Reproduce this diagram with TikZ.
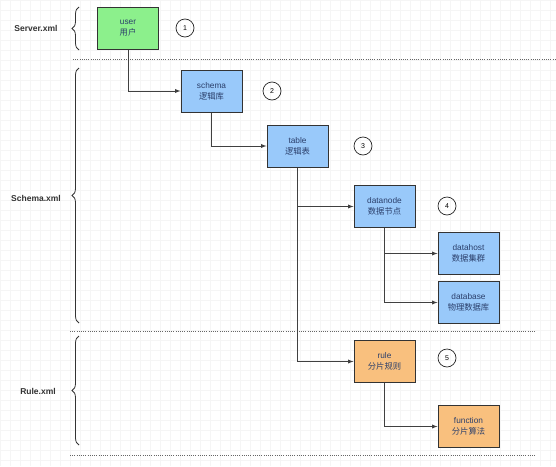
\documentclass[tikz,border=0pt]{standalone}
\usepackage{fontspec}
\setmainfont{Liberation Sans}
\newfontfamily\cjk{Noto Sans CJK SC}
\usetikzlibrary{decorations.pathreplacing}
\definecolor{usergreen}{HTML}{8CF08C}
\definecolor{nodeblue}{HTML}{99C9FA}
\definecolor{ruleorange}{HTML}{F9C07E}
\definecolor{boxtext}{HTML}{2B3F6B}
\tikzset{
  box/.style={draw=black!80, line width=1pt, minimum width=61pt, minimum height=42pt,
    align=center, text=boxtext, font=\fontsize{8.3}{11}\selectfont},
  numcircle/.style={circle, draw=black!85, line width=0.7pt, minimum size=18pt, inner sep=0pt,
    font=\fontsize{7}{7}\selectfont},
  filelabel/.style={font=\bfseries\fontsize{8.5}{10}\selectfont, text=black!80},
  arr/.style={-latex, line width=0.9pt, black!75},
  sep/.style={black!60, line width=0.9pt, dash pattern=on 1pt off 1.2pt},
  filebrace/.style={decorate, decoration={brace, amplitude=7pt, mirror}, line width=0.8pt, black!80}
}
\begin{document}
\begin{tikzpicture}[x=1pt, y=-1pt]
    \useasboundingbox (0,0) rectangle (556,466);
    %sfondo e griglia
    \fill[white] (0,0) rectangle (556,466);
    \draw[black!4, step=10pt] (0,0) grid (556,466);
    %etichette dei file
    \node[filelabel] (serverlbl) at (36,28) {Server.xml};
    \node[filelabel] (schemalbl) at (36,198) {Schema.xml};
    \node[filelabel] (rulelbl) at (38,391) {Rule.xml};
    \draw[filebrace] (79,7) -- (79,50);
    \draw[filebrace] (79,68) -- (79,323);
    \draw[filebrace] (79,336) -- (79,445);
    %linee di separazione
    \draw[sep] (73,59) -- (556,59);
    \draw[sep] (70,331) -- (535,331);
    \draw[sep] (70,455) -- (535,455);
    %nodi
    \node[box, fill=usergreen] (user) at (128,28) {user\\{\cjk 用户}};
    \node[box, fill=nodeblue] (schema) at (211.5,91) {schema\\{\cjk 逻辑库}};
    \node[box, fill=nodeblue] (table) at (297.5,146) {table\\{\cjk 逻辑表}};
    \node[box, fill=nodeblue] (datanode) at (384.5,206.5) {datanode\\{\cjk 数据节点}};
    \node[box, fill=nodeblue] (datahost) at (468.5,253.5) {datahost\\{\cjk 数据集群}};
    \node[box, fill=nodeblue] (database) at (468.5,302.5) {database\\{\cjk 物理数据库}};
    \node[box, fill=ruleorange] (rule) at (384.5,361.5) {rule\\{\cjk 分片规则}};
    \node[box, fill=ruleorange] (function) at (468.5,426.5) {function\\{\cjk 分片算法}};
    %numeri
    \node[numcircle] (num1) at (185,28) {1};
    \node[numcircle] (num2) at (272,91) {2};
    \node[numcircle] (num3) at (363,146) {3};
    \node[numcircle] (num4) at (447,206) {4};
    \node[numcircle] (num5) at (447,358) {5};
    %frecce
    \draw[arr] (user.south) |- (schema.west);
    \draw[arr] (schema.south) |- (table.west);
    \draw[arr] (table.south) |- (datanode.west);
    \draw[arr] (table.south) |- (rule.west);
    \draw[arr] (datanode.south) |- (datahost.west);
    \draw[arr] (datanode.south) |- (database.west);
    \draw[arr] (rule.south) |- (function.west);
\end{tikzpicture}
\end{document}
